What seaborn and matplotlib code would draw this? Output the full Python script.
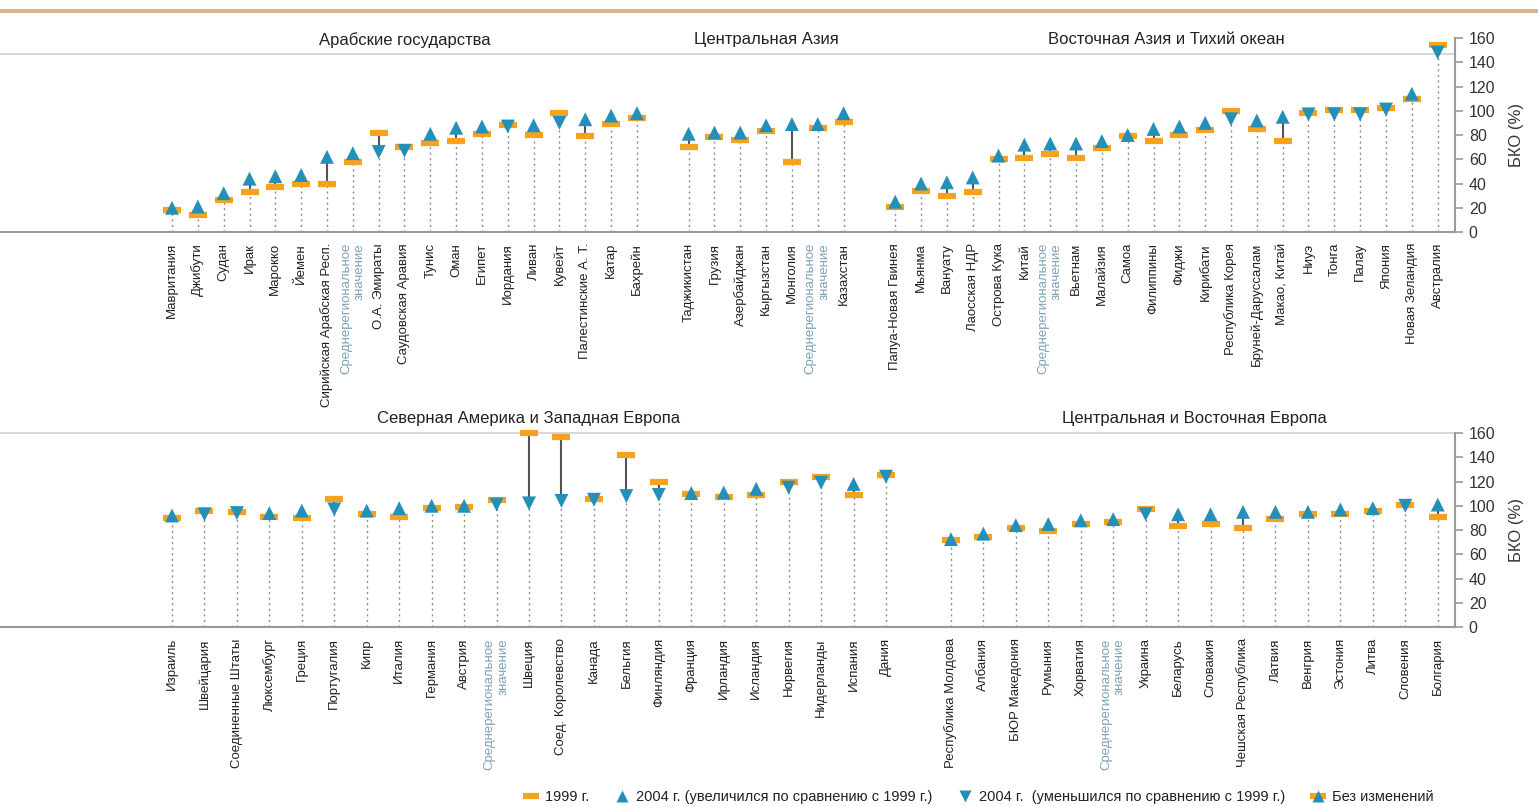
import numpy as np
import pandas as pd
import matplotlib
matplotlib.use("Agg")
import matplotlib.pyplot as plt
import seaborn as sns
from matplotlib.lines import Line2D
from matplotlib.patches import Rectangle

MEAN = "Среднерегиональное\nзначение"

# --- Arab States
arab_names = ["Мавритания", "Джибути", "Судан", "Ирак", "Марокко", "Йемен",
              "Сирийская Арабская Респ.", MEAN, "О.А. Эмираты", "Саудовская Аравия",
              "Тунис", "Оман", "Египет", "Иордания", "Ливан", "Кувейт",
              "Палестинские А. Т.", "Катар", "Бахрейн"]
arab_1999 = [18, 14, 26, 33, 37, 40, 40, 58, 82, 70, 73, 75, 81, 88, 80, 98, 79, 89, 94]
arab_2004 = [20, 21, 32, 44, 46, 47, 62, 65, 66, 67, 81, 86, 87, 87, 88, 90, 93, 96, 98]

# --- Central Asia
casia_names = ["Таджикистан", "Грузия", "Азербайджан", "Кыргызстан", "Монголия",
               MEAN, "Казахстан"]
casia_1999 = [70, 78, 76, 83, 58, 86, 91]
casia_2004 = [81, 82, 82, 88, 89, 89, 98]

# --- East Asia and the Pacific
easia_names = ["Папуа-Новая Гвинея", "Мьянма", "Вануату", "Лаосская НДР", "Острова Кука",
               "Китай", MEAN, "Вьетнам", "Малайзия", "Самоа", "Филиппины", "Фиджи",
               "Кирибати", "Республика Корея", "Бруней-Даруссалам", "Макао, Китай",
               "Ниуэ", "Тонга", "Палау", "Япония", "Новая Зеландия", "Австралия"]
easia_1999 = [21, 34, 30, 33, 60, 61, 64, 61, 69, 79, 75, 80, 84, 100, 85, 75,
              98, 101, 101, 102, 110, 154]
easia_2004 = [25, 40, 41, 45, 63, 72, 73, 73, 75, 80, 85, 87, 90, 93, 92, 95,
              97, 97, 97, 101, 114, 148]

# --- North America and Western Europe
nawe_names = ["Израиль", "Швейцария", "Соединенные Штаты", "Люксембург", "Греция",
              "Португалия", "Кипр", "Италия", "Германия", "Австрия", MEAN, "Швеция",
              "Соед. Королевство", "Канада", "Бельгия", "Финляндия", "Франция",
              "Ирландия", "Исландия", "Норвегия", "Нидерланды", "Испания", "Дания"]
nawe_1999 = [90, 96, 95, 91, 90, 106, 93, 91, 98, 99, 105, 160, 157, 106, 142, 120,
             110, 107, 109, 120, 124, 109, 125]
nawe_2004 = [92, 93, 94, 94, 96, 97, 96, 98, 100, 100, 101, 102, 104, 105, 108, 109,
             110.5, 111, 114, 115, 119, 118, 124]

# --- Central and Eastern Europe
cee_names = ["Республика Молдова", "Албания", "БЮР Македония", "Румыния", "Хорватия",
             MEAN, "Украина", "Беларусь", "Словакия", "Чешская Республика", "Латвия",
             "Венгрия", "Эстония", "Литва", "Словения", "Болгария"]
cee_1999 = [72, 74, 82, 79, 85, 87, 97, 83, 85, 82, 89, 93, 93, 96, 101, 91]
cee_2004 = [72.5, 77, 84, 85, 88, 89, 93, 93, 93, 95, 95, 95, 97, 98, 100, 101]

top_groups = [("Арабские государства", arab_names, arab_1999, arab_2004),
              ("Центральная Азия", casia_names, casia_1999, casia_2004),
              ("Восточная Азия и Тихий океан", easia_names, easia_1999, easia_2004)]
bottom_groups = [("Северная Америка и Западная Европа", nawe_names, nawe_1999, nawe_2004),
                 ("Центральная и Восточная Европа", cee_names, cee_1999, cee_2004)]

ORANGE = "#F6A21E"
BLUE = "#2390B9"
MEAN_COLOR = "#7FA2BA"
GRAY = "#9a9a9a"
TEXT = "#222222"

sns.set_style("white")
plt.rcParams["font.family"] = ["Liberation Sans", "DejaVu Sans"]


def build_frame(groups):
    rows = []
    pos = 0
    for title, names, v99, v04 in groups:
        for n, a, b in zip(names, v99, v04):
            rows.append({"group": title, "name": n, "pos": pos, "v1999": a, "v2004": b,
                         "direction": "up" if b >= a else "down"})
            pos += 1
        pos += 1  # empty slot between regions
    return pd.DataFrame(rows)


def plot_panel(ax, groups, xlim, sep_y, title_y):
    df = build_frame(groups)

    low = np.minimum(df["v1999"], df["v2004"])
    ax.vlines(df["pos"], 0, low, colors="#8c8c8c", linestyles=(0, (1.5, 2.5)), lw=1, zorder=1)
    ax.vlines(df["pos"], df["v1999"], df["v2004"], colors="#555555", lw=1.5, zorder=2)

    sns.scatterplot(data=df, x="pos", y="v1999", marker="_", s=150, linewidth=4.5,
                    color=ORANGE, ax=ax, legend=False, zorder=3, clip_on=False)
    sns.scatterplot(data=df, x="pos", y="v2004", style="direction",
                    markers={"up": "^", "down": "v"}, s=100, color=BLUE,
                    edgecolor="none", ax=ax, legend=False, zorder=4, clip_on=False)

    ax.set_xlim(*xlim)
    ax.set_ylim(0, 160)
    ax.set_xticks(df["pos"])
    ax.set_xticklabels(df["name"], rotation=90, fontsize=9.5, color=TEXT,
                       multialignment="right")
    for lbl, n in zip(ax.get_xticklabels(), df["name"]):
        if n == MEAN:
            lbl.set_color(MEAN_COLOR)
    ax.tick_params(axis="x", length=0, pad=8)

    ax.yaxis.tick_right()
    ax.yaxis.set_label_position("right")
    ax.set_yticks(range(0, 161, 20))
    ax.tick_params(axis="y", length=6, width=1.2, color=GRAY, labelsize=11.5,
                   labelcolor="#333333", pad=4, direction="out")
    ax.set_ylabel("БКО (%)", fontsize=12, color="#333333", labelpad=10)
    ax.set_xlabel("")

    for side in ["top", "left"]:
        ax.spines[side].set_visible(False)
    for side in ["bottom", "right"]:
        ax.spines[side].set_color(GRAY)
        ax.spines[side].set_linewidth(1.5)

    ax.axhline(sep_y, color="#d4d4d4", lw=1.3, zorder=0, clip_on=False)

    for title, sub in df.groupby("group", sort=False):
        ax.text(sub["pos"].mean(), title_y, title, ha="center", va="center",
                fontsize=12, color=TEXT, clip_on=False)


fig = plt.figure(figsize=(15.38, 8.07), dpi=100)
ax_top = fig.add_axes([0.0, 0.7125, 0.946, 0.2404])
ax_bot = fig.add_axes([0.0, 0.2230, 0.946, 0.2404])

plot_panel(ax_top, top_groups, (-6.66, 49.67), 146.8, 158.4)
plot_panel(ax_bot, bottom_groups, (-5.30, 39.53), 160, 172.4)

# thin tan band along the top edge
fig.add_artist(Rectangle((0, 1 - 13 / 807), 1, 4 / 807, transform=fig.transFigure,
                         color="#DDB488", lw=0))

h_99 = Line2D([], [], color=ORANGE, marker="_", ms=12, mew=4.5, ls="none")
h_up = Line2D([], [], color=BLUE, marker="^", ms=9, mec="none", ls="none")
h_dn = Line2D([], [], color=BLUE, marker="v", ms=9, mec="none", ls="none")
fig.legend([h_99, h_up, h_dn, (h_99, h_up)],
           ["1999 г.", "2004 г. (увеличился по сравнению с 1999 г.)",
            "2004 г.  (уменьшился по сравнению с 1999 г.)", "Без изменений"],
           loc="center", bbox_to_anchor=(978 / 1538, 1 - 797 / 807), ncol=4,
           frameon=False, fontsize=10.5, handlelength=1.2, handletextpad=0.4,
           columnspacing=1.6, labelcolor="#222222")

fig.savefig("out.png", dpi=100)
